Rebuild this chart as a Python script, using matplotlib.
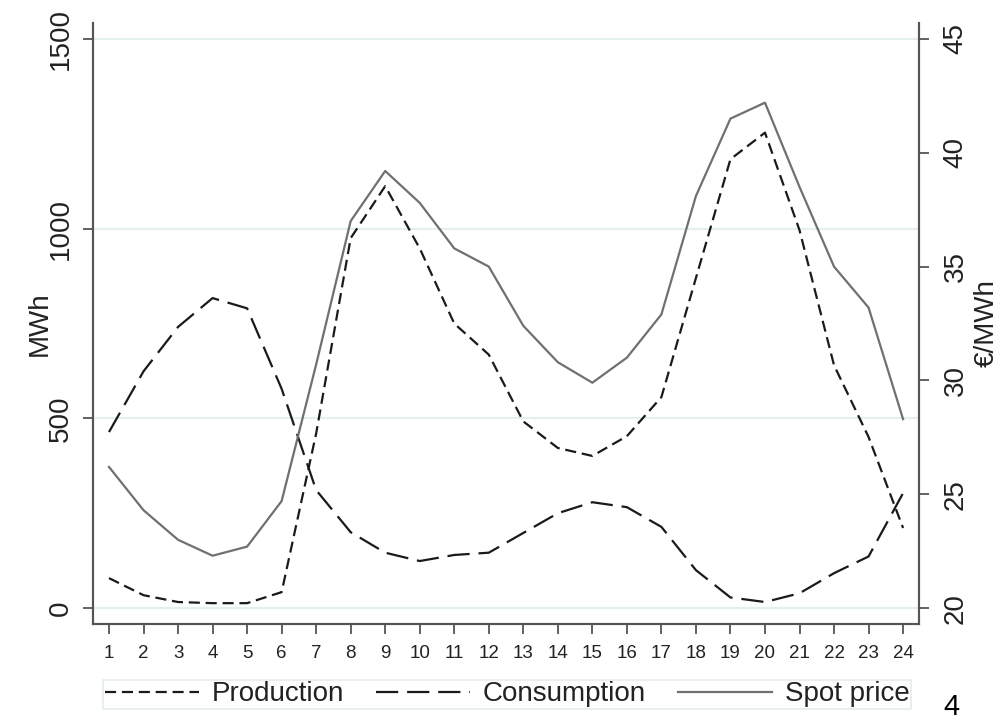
import matplotlib
matplotlib.use("Agg")
import matplotlib.pyplot as plt

plt.rcParams['font.family'] = ['Liberation Sans', 'DejaVu Sans']

# hourly data
hours = list(range(1, 25))
production = [79, 34, 16, 13, 13, 42, 460, 975, 1112, 948, 750, 668,
              492, 422, 401, 453, 556, 870, 1183, 1253, 996, 640, 451, 211]
consumption = [464, 624, 741, 817, 790, 578, 311, 200, 146, 124, 140, 146,
               198, 250, 279, 266, 214, 100, 28, 16, 39, 92, 136, 303]
spot_price = [26.2, 24.3, 23.0, 22.3, 22.7, 24.7, 30.7, 37.0, 39.2, 37.8, 35.8, 35.0,
              32.4, 30.8, 29.9, 31.0, 32.9, 38.1, 41.5, 42.2, 38.5, 35.0, 33.2, 28.3]

left_ticks = [0, 500, 1000, 1500]
right_ticks = [20, 25, 30, 35, 40, 45]

spine_col = '#555555'
grid_col = '#e6eff0'
text_col = '#222222'

fig = plt.figure(figsize=(10.04, 7.21), dpi=100)
ax = fig.add_axes([0.0926, 0.1345, 0.8227, 0.8336])
ax2 = ax.twinx()

ax.set_xlim(0.536, 24.46)
ax.set_ylim(-42, 1542)
ax2.set_ylim(19.30, 45.70)

for y in left_ticks:
    ax.axhline(y, color=grid_col, lw=1.5, zorder=0)

l1, = ax.plot(hours, production, color='#1a1a1a', lw=1.6, dashes=(5, 2.6), zorder=3)
l2, = ax.plot(hours, consumption, color='#1a1a1a', lw=1.6, dashes=(10, 4), zorder=3)
l3, = ax2.plot(hours, spot_price, color='#707070', lw=1.6, zorder=3)

for a in (ax, ax2):
    a.spines['top'].set_visible(False)
    for s in ('left', 'right', 'bottom'):
        a.spines[s].set_color(spine_col)
        a.spines[s].set_linewidth(1.5)

ax.set_xticks(hours)
ax.set_xticklabels([str(h) for h in hours], fontsize=13.5, color=text_col)
ax.tick_params(axis='x', length=7, width=1.3, color=spine_col, pad=8)

ax.set_yticks(left_ticks)
ax.set_yticklabels([str(t) for t in left_ticks], fontsize=20, rotation=90,
                   va='center', color=text_col)
ax.tick_params(axis='y', length=7, width=1.3, color=spine_col, pad=7)

ax2.set_yticks(right_ticks)
ax2.set_yticklabels([str(t) for t in right_ticks], fontsize=20, rotation=90,
                    va='center', color=text_col)
ax2.tick_params(axis='y', length=7, width=1.3, color=spine_col, pad=10)

ax.set_ylabel('MWh', fontsize=20, color=text_col)
ax.yaxis.set_label_coords(-0.049, 0.5)
ax2.set_ylabel('€/MWh', fontsize=20, color=text_col, rotation=90)
ax2.yaxis.set_label_coords(1.066, 0.5)

leg = fig.legend([l1, l2, l3], ['Production', 'Consumption', 'Spot price'],
                 ncol=3, loc='center', bbox_to_anchor=(0.505, 0.0368),
                 fontsize=20, handlelength=3.4, handletextpad=0.45,
                 columnspacing=1.15, borderpad=0.05, fancybox=False,
                 frameon=True)
leg.get_frame().set_edgecolor('#dde8ea')
leg.get_frame().set_linewidth(1.2)
for t in leg.get_texts():
    t.set_color(text_col)

# page number in the corner
fig.text(0.948, 0.0, '4', fontsize=21, ha='center', va='bottom', color='black')

fig.savefig('out.png', dpi=100, facecolor='white')
